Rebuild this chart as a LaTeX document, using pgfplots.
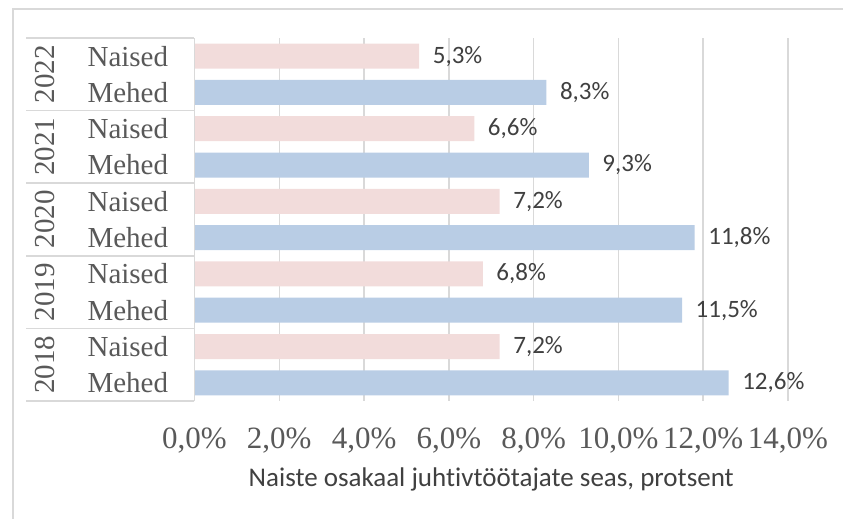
\documentclass[border=0pt]{standalone}
\usepackage{fontspec}
\setmainfont{Liberation Serif}
\newfontfamily\calibri[Ligatures={NoCommon,NoRare}]{Carlito}
\usepackage{pgfplots}
\pgfplotsset{compat=1.18}

\definecolor{pinkbar}{HTML}{F2DCDB}
\definecolor{bluebar}{HTML}{B9CDE5}
\definecolor{gridc}{HTML}{D9D9D9}
\definecolor{txt}{HTML}{595959}
\definecolor{lbl}{HTML}{404040}

% rows: 0 = 2018 Mehed (bottom) ... 9 = 2022 Naised (top)
\pgfplotstableread{
val row
5.3 9
6.6 7
7.2 5
6.8 3
7.2 1
}\naised
\pgfplotstableread{
val row
8.3 8
9.3 6
11.8 4
11.5 2
12.6 0
}\mehed

\tikzset{sep/.style={gridc, line width=0.75pt},
         yr/.style={rotate=90, font=\fontsize{14.5}{15}\selectfont, color=txt, inner sep=0pt}}

\begin{document}
\begin{tikzpicture}
\useasboundingbox (0,0) rectangle (421.5pt,-259.5pt);
% chart frame (only top and left edges are visible)
\draw[gridc, line width=0.75pt] (6.5pt,-259.5pt) -- (6.5pt,-4.5pt) -- (421.5pt,-4.5pt);

\begin{axis}[
    scale only axis,
    width=296.75pt, height=181.5pt,
    at={(97.25pt,-200.5pt)}, anchor=south west,
    xmin=0, xmax=14, ymin=-0.5, ymax=9.5,
    clip=false,
    xbar, bar width=12.5pt, bar shift=0pt,
    axis line style={draw=none},
    xmajorgrids, grid style={gridc, line width=0.75pt},
    xtick={0,2,4,6,8,10,12,14},
    xticklabels={{0,0\%},{2,0\%},{4,0\%},{6,0\%},{8,0\%},{10,0\%},{12,0\%},{14,0\%}},
    xticklabel style={font=\fontsize{15.5}{16}\selectfont, color=txt, anchor=base, yshift=-23.5pt},
    ytick={0,...,9},
    yticklabels={Mehed,Naised,Mehed,Naised,Mehed,Naised,Mehed,Naised,Mehed,Naised},
    yticklabel style={font=\fontsize{14.5}{15}\selectfont, color=txt, anchor=west, xshift=-57pt},
    major tick length=0pt,
    xlabel={Naiste osakaal juhtivtöötajate seas, protsent},
    xlabel style={font=\calibri\fontsize{13.5}{14}\selectfont, color=lbl, anchor=base,
        at={(axis description cs:0.5,0)}, yshift=-42.5pt},
    point meta=x,
    nodes near coords={\pgfmathprintnumber[fixed,fixed zerofill,precision=1,use comma,assume math mode=true]{\pgfplotspointmeta}\%},
    nodes near coords style={font=\calibri\fontsize{12.5}{13}\selectfont, color=lbl, anchor=west, xshift=3.3pt},
]
\addplot[draw=none, fill=pinkbar] table[x=val, y=row] {\naised};
\addplot[draw=none, fill=bluebar] table[x=val, y=row] {\mehed};

% left axis line and category separators
\draw[sep] (axis cs:0,-0.5) -- (axis cs:0,9.5);
\draw[sep] (axis cs:0,-0.5) -- ([xshift=-84pt]axis cs:0,-0.5);
\draw[sep] (axis cs:0,1.5) -- ([xshift=-84pt]axis cs:0,1.5);
\draw[sep] (axis cs:0,3.5) -- ([xshift=-84pt]axis cs:0,3.5);
\draw[sep] (axis cs:0,5.5) -- ([xshift=-84pt]axis cs:0,5.5);
\draw[sep] (axis cs:0,7.5) -- ([xshift=-84pt]axis cs:0,7.5);
\draw[sep] (axis cs:0,9.5) -- ([xshift=-84pt]axis cs:0,9.5);
% year labels
\node[yr] at ([xshift=-74.75pt]axis cs:0,8.5) {2022};
\node[yr] at ([xshift=-74.75pt]axis cs:0,6.5) {2021};
\node[yr] at ([xshift=-74.75pt]axis cs:0,4.5) {2020};
\node[yr] at ([xshift=-74.75pt]axis cs:0,2.5) {2019};
\node[yr] at ([xshift=-74.75pt]axis cs:0,0.5) {2018};
\end{axis}
\end{tikzpicture}
\end{document}
